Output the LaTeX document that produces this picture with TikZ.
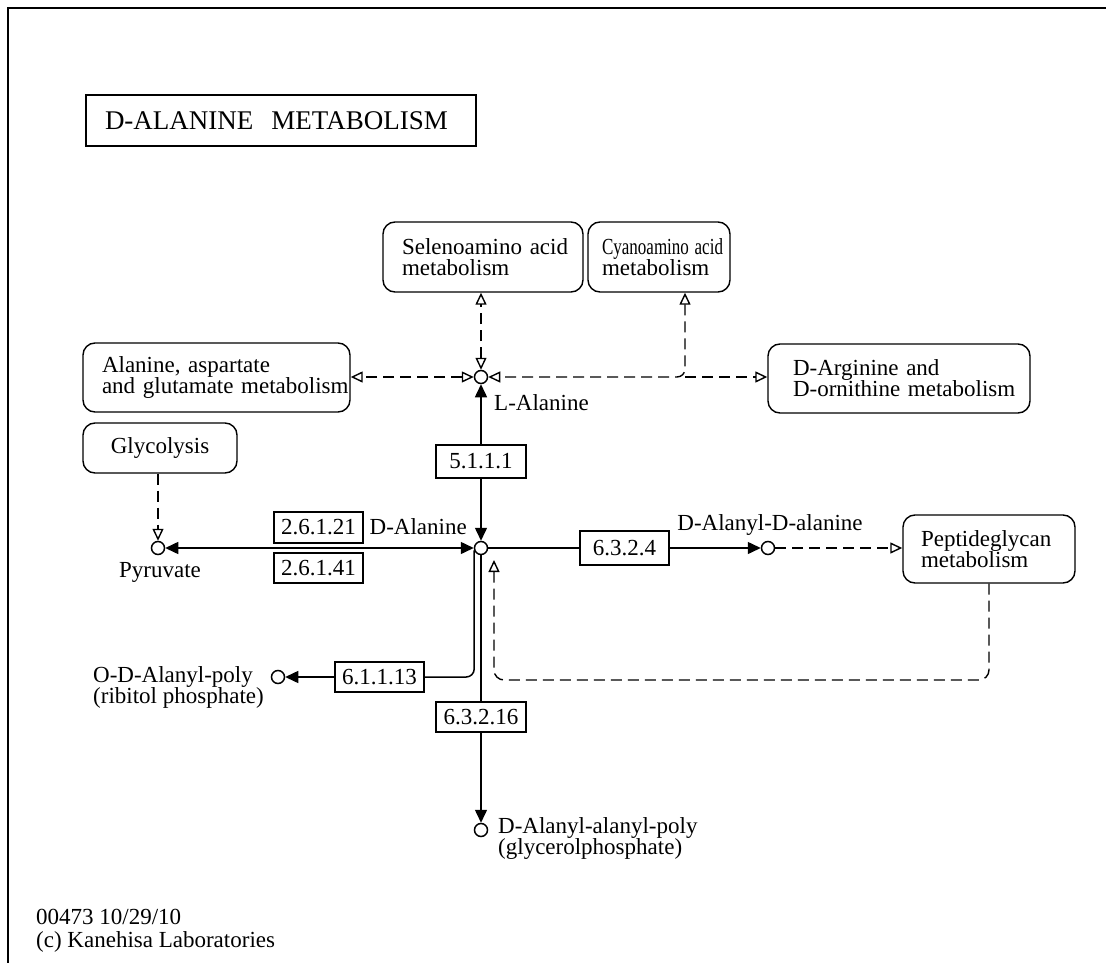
\documentclass[tikz,border=0pt]{standalone}
\usepackage{fontspec}
\setmainfont{Liberation Serif}
\usetikzlibrary{arrows.meta}
\begin{document}
\begin{tikzpicture}[x=1pt,y=-1pt,
  every node/.style={font=\fontsize{23}{21}\selectfont},
  mapbox/.style={draw, rounded corners=12pt, line width=1.4pt, align=left, inner ysep=0pt, fill=white},
  ecbox/.style={draw, line width=1.4pt, fill=white, inner sep=0pt},
  cpd/.style={circle, draw, line width=1.5pt, minimum size=13pt, inner sep=0pt, fill=white},
  lbl/.style={inner sep=0pt},
  rxn/.style={line width=1.5pt},
  rel/.style={line width=1.4pt, dash pattern=on 11pt off 6pt},
  fa/.style={-{Triangle[length=13pt,width=12pt]}},
  fab/.style={{Triangle[length=13pt,width=12pt]}-{Triangle[length=13pt,width=12pt]}},
  oa/.style={-{Triangle[open,length=12pt,width=11pt]}},
  oab/.style={{Triangle[open,length=12pt,width=11pt]}-{Triangle[open,length=12pt,width=11pt]}}
]
\useasboundingbox (0,0) rectangle (1106,963);
\draw[line width=2pt] (8,963) -- (8,8) -- (1106,8);

% title
\node[draw, line width=2.8pt, minimum width=390pt, minimum height=51pt, text width=352pt, inner xsep=19pt, align=left, font=\fontsize{27}{27}\selectfont] (title) at (281,120.5) {D-ALANINE\ \ METABOLISM};

% map boxes
\node[mapbox, minimum height=70pt, text width=162pt, inner xsep=19pt] (sel) at (483,257) {\mbox{Selenoamino acid}\\metabolism};
\node[mapbox, minimum height=70pt, text width=114pt, inner xsep=14pt] (cyano) at (659,257) {\mbox{\scalebox{0.74}[1]{Cyanoamino acid}}\\metabolism};
\node[mapbox, minimum height=69pt, text width=229pt, inner xsep=19pt] (ala) at (216.5,377.5) {\mbox{Alanine, aspartate}\\\mbox{and glutamate metabolism}};
\node[mapbox, minimum height=69pt, text width=212pt, inner xsep=25pt] (darg) at (899,378.5) {\mbox{D-Arginine and}\\\mbox{D-ornithine metabolism}};
\node[mapbox, minimum height=50pt, minimum width=154pt, align=center] (glyc) at (160,448) {Glycolysis};
\node[mapbox, minimum height=68pt, text width=136pt, inner xsep=18pt] (pep) at (989,549) {\mbox{Peptideglycan}\\metabolism};

% enzymes
\node[ecbox, minimum width=90pt, minimum height=33pt] (e5111) at (481,461.5) {5.1.1.1};
\node[ecbox, minimum width=89pt, minimum height=31pt] (e26121) at (318.5,527.5) {2.6.1.21};
\node[ecbox, minimum width=89pt, minimum height=30pt] (e26141) at (318.5,568) {2.6.1.41};
\node[ecbox, minimum width=89pt, minimum height=34pt] (e6324) at (624.5,548) {6.3.2.4};
\node[ecbox, minimum width=89pt, minimum height=30pt] (e61113) at (379.5,677) {6.1.1.13};
\node[ecbox, minimum width=90pt, minimum height=30pt] (e63216) at (481,717) {6.3.2.16};

% compounds
\node[cpd] (lala) at (481,377) {};
\node[cpd] (dala) at (481,548) {};
\node[cpd] (pyr) at (158,548) {};
\node[cpd] (dadala) at (768,548) {};
\node[cpd] (odala) at (278,677) {};
\node[cpd] (daap) at (481,830) {};

% compound labels
\node[lbl, anchor=west] (llab) at (494,403) {L-Alanine};
\node[lbl, anchor=east] (dlab) at (467,527) {D-Alanine};
\node[lbl] (plab) at (160,572) {Pyruvate};
\node[lbl] (ddlab) at (770,525) {D-Alanyl-D-alanine};
\node[lbl, anchor=west, align=left] (olab) at (93,687) {O-D-Alanyl-poly\\(ribitol phosphate)};
\node[lbl, anchor=west, align=left] (dalab) at (498,838) {D-Alanyl-alanyl-poly\\(glycerolphosphate)};
\node[lbl, anchor=west, align=left, font=\fontsize{23}{23}\selectfont] (foot) at (36,931) {00473 10/29/10\\(c) Kanehisa Laboratories};

% reactions
\draw[rxn, {Triangle[length=13pt,width=12pt]}-] (lala) -- (e5111);
\draw[rxn, fa] (e5111) -- (dala);
\draw[rxn, fab] (pyr) -- (dala);
\draw[rxn] (dala) -- (e6324);
\draw[rxn, fa] (e6324) -- (dadala);
\draw[rxn] (dala) -- (e63216);
\draw[rxn, fa] (e63216) -- (daap);
\draw[rxn, rounded corners=8pt] (dala.200) |- (e61113.east);
\draw[rxn, fa] (e61113) -- (odala);

% relations
\coordinate (cj) at (685,377);
\coordinate (pc) at (494,680);
\coordinate (dtip) at (494,560);
\draw[rel, oab] (lala) -- (ala.east |- lala);
\draw[rel, oab] (lala) -- (sel.south -| lala);
\draw[rel, oab, rounded corners=8pt] (cyano.south -| cj) -- (cj) -- (lala);
\draw[rel, oa] (cj) -- (darg.west |- cj);
\draw[rel, oa] (glyc.south -| pyr) -- (pyr);
\draw[rel, oa] (dadala) -- (pep.west |- dadala);
\draw[rel, oa, rounded corners=10pt] (pep.south) |- (pc) -- (dtip);
\end{tikzpicture}
\end{document}
